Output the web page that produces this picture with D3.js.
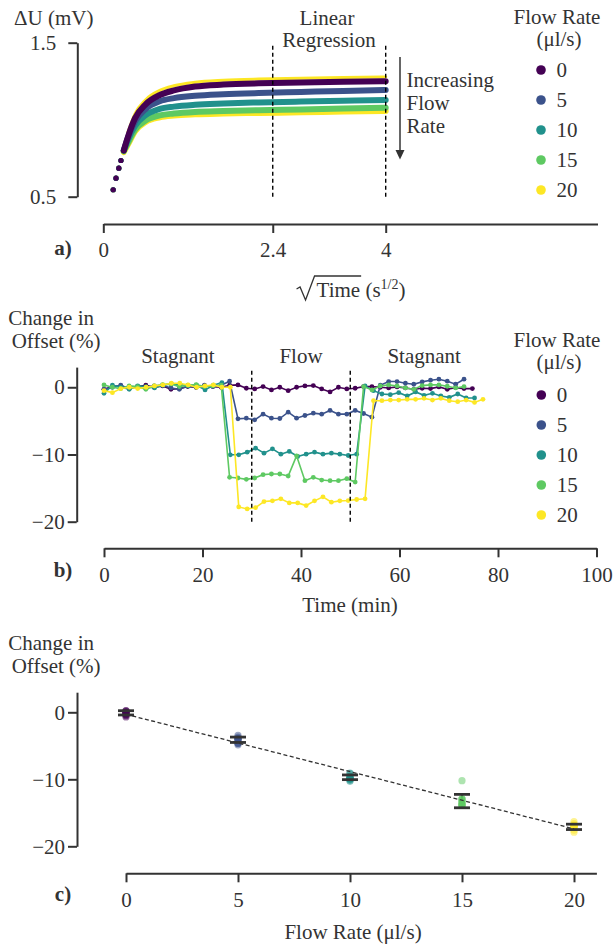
<!DOCTYPE html>
<html>
<head>
<meta charset="utf-8">
<script src="https://cdn.jsdelivr.net/npm/d3@7"></script>
<style>
body { margin: 0; background: #fff; }
svg text { font-family: "Liberation Serif", "Times New Roman", serif; fill: #333; }
</style>
</head>
<body>
<div id="chart"></div>
<script>
// ---------------- data ----------------
const flowRates = [0, 5, 10, 15, 20];
const flowColors = ["#440154", "#3b528b", "#21918c", "#5ec962", "#fde725"];

// panel a: sqrt(time) samples and delta U (mV) for each flow rate
const aX = [0.14, 0.18, 0.22, 0.25, 0.29, 0.35, 0.45, 0.6, 0.8, 1.0, 1.3, 1.7, 2.2, 2.8, 3.4, 4.0];
const aU0 = [0.545, 0.62, 0.685, 0.735, 0.80, 0.89, 1.01, 1.10, 1.16, 1.19, 1.215, 1.228, 1.236, 1.241, 1.246, 1.25];
const aU5 = [0.545, 0.62, 0.685, 0.735, 0.80, 0.885, 0.99, 1.07, 1.12, 1.14, 1.155, 1.165, 1.173, 1.18, 1.187, 1.193];
const aU10 = [0.545, 0.62, 0.685, 0.735, 0.80, 0.87, 0.96, 1.03, 1.07, 1.085, 1.097, 1.105, 1.112, 1.118, 1.123, 1.128];
const aU15 = [0.545, 0.62, 0.685, 0.735, 0.795, 0.85, 0.935, 0.995, 1.028, 1.04, 1.05, 1.056, 1.062, 1.067, 1.073, 1.078];
const aU20 = [0.545, 0.62, 0.685, 0.735, 0.79, 0.84, 0.925, 0.985, 1.015, 1.027, 1.035, 1.04, 1.044, 1.048, 1.053, 1.057];
// faint upper edge of the top band (stagnant runs of the higher flow rates)
const aTopX = [0.35, 0.45, 0.6, 0.8, 1.0, 1.3, 1.7, 2.2, 2.8, 3.4, 4.0];
const aTopU = [0.92, 1.04, 1.13, 1.19, 1.22, 1.243, 1.256, 1.264, 1.269, 1.274, 1.278];
const aTicksX = [0, 2.4, 4];
const aTicksY = [0.5, 1.5];
const aRegression = [2.4, 4];

// panel b: change in offset (%) sampled every bStep minutes
const bStep = [1.7, 1.7, 1.71, 1.7, 1.71];
const b0 = [-0.3, 0.1, 0.2, -0.2, 0.1, 0.3, 0.0, 0.2, -0.3, -0.2, 0.1, 0.0, 0.2, 0.1, 0.0,
  0.3, 0.35, -0.15, -0.25, 0.1, -0.4, 0.0, -0.5, 0.0, 0.2, 0.25, -0.25, -0.7, 0.0, -0.25, -0.15, 0.1,
  0.1, 0.0, -0.1, 0.05, -0.1, -0.3, -0.15, -0.2, 0.05, -0.3, -0.05, -0.2, -0.2];
const b5 = [-0.3, 0.0, 0.3, -0.2, 0.1, 0.0, 0.2, 0.3, -0.1, -0.3, 0.2, 0.0, 0.3, 0.1, 0.3, 0.9,
  -4.7, -4.6, -4.85, -4.0, -4.6, -4.65, -3.7, -4.6, -4.2, -3.85, -4.0, -3.45, -4.0, -4.0, -3.45, -3.9, -4.45,
  0.3, 0.85, 0.85, 0.6, 0.45, 0.8, 1.05, 1.2, 0.9, 0.45, 1.2];
const b10 = [-0.9, 0.3, 0.0, -0.3, 0.2, 0.1, -0.1, 0.3, 0.5, 0.4, 0.2, 0.3, -0.4, 0.3, 0.7,
  -10.05, -10.05, -9.65, -9.06, -9.8, -9.16, -9.95, -9.55, -10.3, -9.95, -9.65, -9.95, -9.8, -9.95, -10.15, -9.95,
  0.2, -0.5, -1.0, -1.1, -0.8, -1.3, -0.7, -1.2, -0.9, -1.3, -1.5, -1.0, -1.6, -1.6];
const b15 = [0.35, 0.0, -0.2, 0.2, 0.1, -0.3, 0.2, 0.4, 0.5, 0.1, 0.3, 0.4, 0.1, 0.2, 0.3,
  -13.4, -13.5, -13.7, -13.5, -13.0, -12.9, -12.9, -13.2, -10.2, -13.9, -13.4, -13.8, -13.9, -13.9, -13.6, -14.1,
  0.1, -0.4, 0.2, 0.35, 0.2, -0.1, -0.3, 0.25, 0.35, 0.35, 0.15, -0.1, 0.1];
const b20 = [-0.5, -0.8, -0.2, 0.0, -0.2, 0.0, 0.2, 0.35, 0.6, 0.6, 0.35, 0.0, 0.2, 0.35, 0.0, 0.0,
  -17.8, -18.1, -17.9, -17.0, -16.9, -16.6, -17.2, -17.2, -17.6, -16.9, -16.3, -17.1, -16.9, -16.85, -16.7, -16.6,
  -2.0, -2.0, -1.9, -1.9, -1.8, -1.8, -1.65, -1.9, -1.65, -2.0, -2.15, -1.9, -2.25, -1.8];
const bTicksX = [0, 20, 40, 60, 80, 100];
const bTicksY = [0, -10, -20];
const bPhaseLines = [30, 50];
const bPhaseLabels = ["Stagnant", "Flow", "Stagnant"];
const bPhaseCenters = [15, 40, 65];

// panel c: mean and spread of the flow window per flow rate, plus linear fit
const cMean = [-0.08, -4.1, -9.7, -13.25, -17.1];
const cErr = [0.32, 0.4, 0.35, 1.0, 0.4];
const cFitX = [0, 20];
const cFitY = [-0.3, -17.4];
const cTicksX = [0, 5, 10, 15, 20];
const cTicksY = [0, -10, -20];

// ---------------- drawing ----------------
const W = 616, H = 945;
const ink = "#333";
const fs = 21;
const svg = d3.select("#chart").append("svg")
    .attr("width", W)
    .attr("height", H);

function styleAxis(g) {
    g.attr("color", ink);
    g.select(".domain").attr("stroke-width", 2);
    g.selectAll(".tick line").attr("stroke-width", 2);
    g.selectAll(".tick text").style("font-size", fs + "px");
}

function addText(x, y, str, anchor, weight) {
    return svg.append("text")
        .attr("x", x)
        .attr("y", y)
        .attr("text-anchor", anchor || "start")
        .style("font-size", fs + "px")
        .style("font-weight", weight || "normal")
        .text(str);
}

function legend(x0, titleY, rowY) {
    addText(557, titleY, "Flow Rate", "middle");
    addText(559, titleY + 22.5, "(\u03bcl/s)", "middle");
    flowRates.forEach((f, i) => {
        const cy = rowY + i * 30;
        svg.append("circle").attr("cx", x0).attr("cy", cy).attr("r", 4.8).attr("fill", flowColors[i]);
        addText(x0 + 15.5, cy + 6.8, String(f));
    });
}

const plainFmt = d => String(d);

// ---- panel a ----
const xA = d3.scaleLinear().domain([0, 7]).range([103.3, 597.5]);
const yA = d3.scaleLinear().domain([0.5, 1.5]).range([196.7, 42.7]);
const aSeries = [aU0, aU5, aU10, aU15, aU20];

svg.append("g")
    .attr("transform", "translate(0,224)")
    .call(d3.axisBottom(xA).tickValues(aTicksX).tickFormat(plainFmt).tickSize(9).tickSizeOuter(0).tickPadding(9))
    .call(styleAxis);
svg.append("g")
    .attr("transform", "translate(77.3,0)")
    .call(d3.axisLeft(yA).tickValues(aTicksY).tickFormat(plainFmt).tickSize(9).tickSizeOuter(0).tickPadding(12))
    .call(styleAxis);

const lineA = d3.line().x(d => xA(d[0])).y(d => yA(d[1])).curve(d3.curveMonotoneX);

svg.append("path")
    .attr("d", lineA(aTopX.map((x, i) => [x, aTopU[i]])))
    .attr("fill", "none")
    .attr("stroke", flowColors[4])
    .attr("stroke-width", 3)
    .attr("stroke-linecap", "round");

// highest flow rate drawn first so the top band stays dark
for (let k = aSeries.length - 1; k >= 0; k--) {
    const pts = aX.map((x, i) => [x, aSeries[k][i]]);
    svg.append("path")
        .attr("d", lineA(pts.slice(4)))
        .attr("fill", "none")
        .attr("stroke", flowColors[k])
        .attr("stroke-width", 6)
        .attr("stroke-linecap", "round");
    svg.selectAll(null)
        .data(pts.slice(0, 5))
        .enter().append("circle")
        .attr("cx", d => xA(d[0]))
        .attr("cy", d => yA(d[1]))
        .attr("r", 2.6)
        .attr("fill", flowColors[k]);
}

aRegression.forEach(v => {
    svg.append("line")
        .attr("x1", xA(v)).attr("x2", xA(v))
        .attr("y1", yA(0.5)).attr("y2", yA(1.5))
        .attr("stroke", "#000")
        .attr("stroke-width", 1.4)
        .attr("stroke-dasharray", "4,3");
});

addText(14, 25, "\u0394U (mV)");
addText(327, 25, "Linear", "middle");
addText(329, 46.7, "Regression", "middle");

// arrow for increasing flow rate
svg.append("line")
    .attr("x1", 400).attr("x2", 400)
    .attr("y1", 57).attr("y2", 151)
    .attr("stroke", ink).attr("stroke-width", 1.5);
svg.append("path")
    .attr("d", "M395.5,150 L404.5,150 L400,159.5 Z")
    .attr("fill", ink);
addText(406.5, 87.3, "Increasing");
addText(406.5, 110, "Flow");
addText(406.5, 132.7, "Rate");

legend(541, 23.5, 70);

// x label with radical sign
const base = 297;
const xl = svg.append("text").attr("y", base).style("font-size", fs + "px");
const tTime = xl.append("tspan").text("Time");
xl.append("tspan").text(" (s");
xl.append("tspan").attr("dy", -8).style("font-size", "14px").text("1/2");
xl.append("tspan").attr("dy", 8).text(")");
const radW = 20;
const totalW = radW + xl.node().getComputedTextLength();
const x0 = 351 - totalW / 2;
xl.attr("x", x0 + radW);
const timeW = tTime.node().getComputedTextLength();
const rad = d3.path();
rad.moveTo(x0, base - 8);
rad.lineTo(x0 + 3.5, base - 10);
rad.lineTo(x0 + 9, base + 3);
rad.lineTo(x0 + 18, base - 21);
rad.lineTo(x0 + radW + timeW + 1, base - 21);
svg.append("path").attr("d", rad.toString())
    .attr("fill", "none").attr("stroke", ink).attr("stroke-width", 1.3);

addText(63, 255, "a)", "middle", "bold");

// ---- panel b ----
const xB = d3.scaleLinear().domain([0, 100]).range([104, 596.5]);
const yB = d3.scaleLinear().domain([-20, 3]).range([521.7, 367.1]);
const bSeries = [b0, b5, b10, b15, b20];

svg.append("g")
    .attr("transform", "translate(0,548.3)")
    .call(d3.axisBottom(xB).tickValues(bTicksX).tickSize(9).tickSizeOuter(0).tickPadding(9.5))
    .call(styleAxis);
svg.append("g")
    .attr("transform", "translate(76.7,0)")
    .call(d3.axisLeft(yB).tickValues(bTicksY).tickSize(9).tickSizeOuter(0).tickPadding(3))
    .call(styleAxis);

const lineB = d3.line().x(d => xB(d.t)).y(d => yB(d.v));
bSeries.forEach((vals, k) => {
    const pts = vals.map((v, i) => ({ t: i * bStep[k], v: v }));
    svg.append("path")
        .attr("d", lineB(pts))
        .attr("fill", "none")
        .attr("stroke", flowColors[k])
        .attr("stroke-width", 1.6);
    svg.selectAll(null)
        .data(pts)
        .enter().append("circle")
        .attr("cx", d => xB(d.t))
        .attr("cy", d => yB(d.v))
        .attr("r", 2.4)
        .attr("fill", flowColors[k]);
});

bPhaseLines.forEach(t => {
    svg.append("line")
        .attr("x1", xB(t)).attr("x2", xB(t))
        .attr("y1", yB(-20)).attr("y2", yB(2.85))
        .attr("stroke", "#000")
        .attr("stroke-width", 1.4)
        .attr("stroke-dasharray", "4,3");
});
bPhaseLabels.forEach((s, i) => addText(xB(bPhaseCenters[i]), 363, s, "middle"));

addText(8.3, 324.5, "Change in");
addText(11.7, 347.5, "Offset (%)");
legend(541.3, 346.7, 395);
addText(350, 612, "Time (min)", "middle");
addText(63, 577, "b)", "middle", "bold");

// ---- panel c ----
const xC = d3.scaleLinear().domain([0, 21]).range([126, 596.4]);
const yC = d3.scaleLinear().domain([-20, 3]).range([846.3, 692.2]);

svg.append("g")
    .attr("transform", "translate(0,873.3)")
    .call(d3.axisBottom(xC).tickValues(cTicksX).tickSize(9).tickSizeOuter(0).tickPadding(9.5))
    .call(styleAxis);
svg.append("g")
    .attr("transform", "translate(77,0)")
    .call(d3.axisLeft(yC).tickValues(cTicksY).tickSize(9).tickSizeOuter(0).tickPadding(3))
    .call(styleAxis);

// error bar stems
flowRates.forEach((f, k) => {
    svg.append("line")
        .attr("x1", xC(f)).attr("x2", xC(f))
        .attr("y1", yC(cMean[k] - cErr[k])).attr("y2", yC(cMean[k] + cErr[k]))
        .attr("stroke", ink).attr("stroke-width", 2);
});

// individual points of the flow window (30-50 min) from panel b
bSeries.forEach((vals, k) => {
    const pts = vals.map((v, i) => ({ t: i * bStep[k], v: v }))
        .filter(d => d.t >= bPhaseLines[0] && d.t <= bPhaseLines[1]);
    svg.selectAll(null)
        .data(pts)
        .enter().append("circle")
        .attr("cx", xC(flowRates[k]))
        .attr("cy", d => yC(d.v))
        .attr("r", 3.6)
        .attr("fill", flowColors[k])
        .attr("fill-opacity", 0.5);
});

// caps
flowRates.forEach((f, k) => {
    [cMean[k] - cErr[k], cMean[k] + cErr[k]].forEach(v => {
        svg.append("line")
            .attr("x1", xC(f) - 8).attr("x2", xC(f) + 8)
            .attr("y1", yC(v)).attr("y2", yC(v))
            .attr("stroke", ink).attr("stroke-width", 2.8);
    });
});

svg.append("line")
    .attr("x1", xC(cFitX[0])).attr("y1", yC(cFitY[0]))
    .attr("x2", xC(cFitX[1])).attr("y2", yC(cFitY[1]))
    .attr("stroke", ink)
    .attr("stroke-width", 1.3)
    .attr("stroke-dasharray", "4,2.5");

addText(8.3, 649.5, "Change in");
addText(11.7, 672.5, "Offset (%)");
addText(353, 938.5, "Flow Rate (\u03bcl/s)", "middle");
addText(63, 901, "c)", "middle", "bold");
</script>
</body>
</html>
